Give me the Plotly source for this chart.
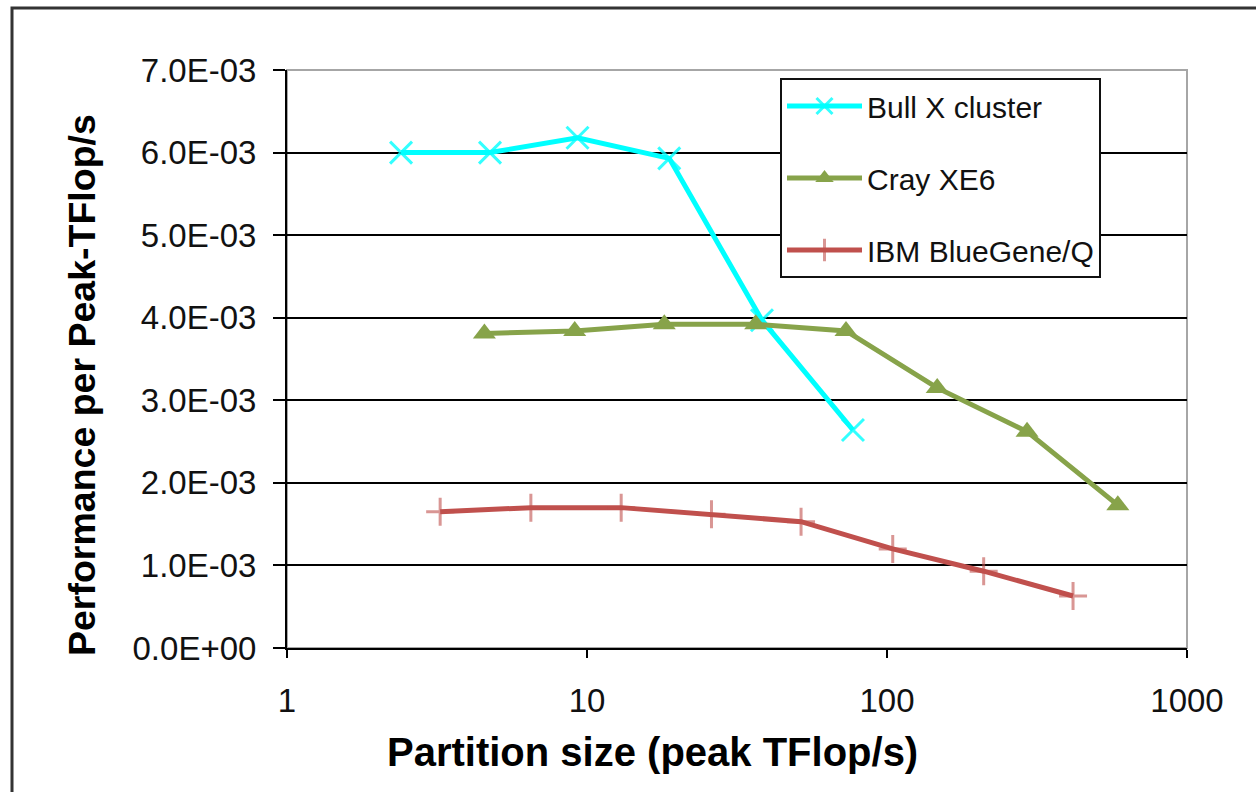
import plotly.graph_objects as go

# ---- data ----
bull_x = [2.4, 4.75, 9.3, 18.8, 38.3, 77]
bull_y = [6.0e-3, 6.0e-3, 6.18e-3, 5.93e-3, 3.97e-3, 2.64e-3]

cray_x = [4.55, 9.1, 18.1, 36.5, 73, 147, 293, 588]
cray_y = [3.81e-3, 3.84e-3, 3.92e-3, 3.92e-3, 3.84e-3, 3.15e-3, 2.62e-3, 1.73e-3]

ibm_x = [3.24, 6.5, 13, 26, 51.7, 104.5, 210, 417]
ibm_y = [1.65e-3, 1.70e-3, 1.70e-3, 1.62e-3, 1.53e-3, 1.20e-3, 0.93e-3, 0.63e-3]

y_tickvals = [0, 1e-3, 2e-3, 3e-3, 4e-3, 5e-3, 6e-3, 7e-3]
y_ticktext = ["0.0E+00", "1.0E-03", "2.0E-03", "3.0E-03", "4.0E-03", "5.0E-03", "6.0E-03", "7.0E-03"]
x_tickvals = [1, 10, 100, 1000]
x_ticktext = ["1", "10", "100", "1000"]

x_title = "Partition size (peak TFlop/s)"
y_title = "Performance per Peak-TFlop/s"

FONT = "Liberation Sans, Arial, sans-serif"
CYAN = "#00FFFF"
GREEN = "#87A34A"
RED = "#C0504D"

fig = go.Figure()
fig.add_trace(go.Scatter(
    x=bull_x, y=bull_y, name="Bull X cluster", mode="lines+markers",
    line=dict(color=CYAN, width=5),
    marker=dict(symbol="x-thin", size=22, line=dict(color="rgba(0,255,255,0.8)", width=3), color=CYAN),
    legendgroup="a",
))
fig.add_trace(go.Scatter(
    x=cray_x, y=cray_y, name="Cray XE6", mode="lines+markers",
    line=dict(color=GREEN, width=5),
    marker=dict(symbol="triangle-up", size=20, color=GREEN),
    legendgroup="b",
))
fig.add_trace(go.Scatter(
    x=ibm_x, y=ibm_y, name="IBM BlueGene/Q", mode="lines+markers",
    line=dict(color=RED, width=5),
    marker=dict(symbol="cross-thin", size=20, color="rgba(192,80,77,0.6)",
                line=dict(color="rgba(192,80,77,0.6)", width=3)),
    legendgroup="c",
))

L, R, T, B = 287, 69, 70, 144
W, H = 1256, 792
pw, ph = W - L - R, H - T - B

def px(xp):
    return (xp - L) / pw

def py(yp):
    return (H - B - yp) / ph

# outer chart border (extends past right/bottom edges)
fig.add_shape(type="rect", xref="paper", yref="paper",
              x0=px(12), x1=px(1300), y0=py(850), y1=py(8),
              line=dict(color="#333333", width=3), layer="below")
# plot area border (gray)
fig.add_shape(type="rect", xref="paper", yref="paper", x0=0, x1=1, y0=0, y1=1,
              line=dict(color="#A6A6A6", width=2), layer="below")

fig.add_annotation(text="<b>" + x_title + "</b>", xref="paper", yref="paper",
                   x=px(652), y=py(752), xanchor="center", yanchor="middle",
                   showarrow=False, font=dict(family=FONT, size=40, color="black"))
fig.add_annotation(text="<b>" + y_title + "</b>", xref="paper", yref="paper",
                   x=px(82), y=py(385), xanchor="center", yanchor="middle",
                   textangle=-90, showarrow=False,
                   font=dict(family=FONT, size=37.5, color="black"))

fig.update_layout(
    width=W, height=H,
    margin=dict(l=L, r=R, t=T, b=B),
    paper_bgcolor="white", plot_bgcolor="white",
    font=dict(family=FONT, color="#111111"),
    showlegend=True,
    legend=dict(
        x=px(780), y=py(78), xanchor="left", yanchor="top",
        bgcolor="white", bordercolor="#111111", borderwidth=2,
        font=dict(family=FONT, size=30, color="#111111"),
        tracegroupgap=30, itemwidth=75,
    ),
    xaxis=dict(
        type="log", range=[0, 3], tickvals=x_tickvals, ticktext=x_ticktext,
        showgrid=False, showline=True, linecolor="black", linewidth=2,
        ticks="outside", ticklen=8, tickwidth=2, tickcolor="black",
        tickfont=dict(family=FONT, size=33, color="#111111"),
        zeroline=False, ticklabelstandoff=14,
    ),
    yaxis=dict(
        range=[0, 7e-3], tickvals=y_tickvals, ticktext=y_ticktext,
        showgrid=True, gridcolor="black", gridwidth=2,
        showline=True, linecolor="black", linewidth=2,
        ticks="outside", ticklen=12, tickwidth=2, tickcolor="black",
        tickfont=dict(family=FONT, size=33, color="#111111"),
        zeroline=False, ticklabelstandoff=10,
    ),
)

fig.write_html("out.html")
